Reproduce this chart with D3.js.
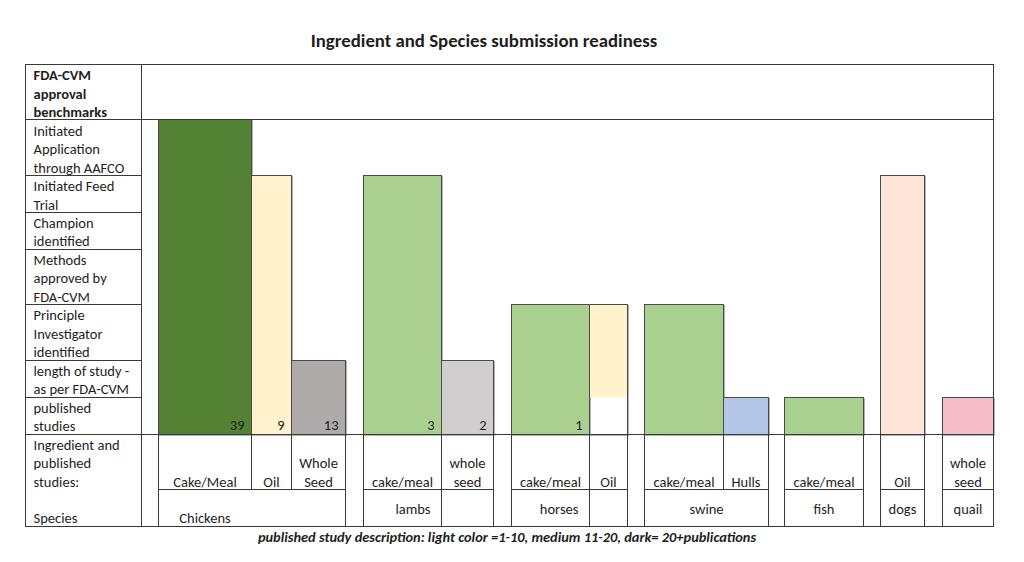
<!DOCTYPE html>
<html><head><meta charset="utf-8">
<script src="https://cdn.jsdelivr.net/npm/d3@7"></script>
<style>body{margin:0;background:#fff} svg{display:block} text{font-family:Carlito, Lato, "Open Sans", sans-serif;fill:#1e1e1e}</style>
</head><body><svg id="c" width="1024" height="562"></svg>
<script>
// ---------------- DATA ----------------
const title = "Ingredient and Species submission readiness";
const footnote = "published study description: light color =1-10, medium 11-20, dark= 20+publications";
const headerLabel = ["FDA-CVM", "approval", "benchmarks"];
// benchmarks, listed bottom (stage 1) to top (stage 7)
const benchmarks = [
  ["published", "studies"],
  ["length of study -", "as per FDA-CVM"],
  ["Principle", "Investigator", "identified"],
  ["Methods", "approved by", "FDA-CVM"],
  ["Champion", "identified"],
  ["Initiated Feed", "Trial"],
  ["Initiated", "Application", "through AAFCO"]
];
const ingredientHeader = ["Ingredient and", "published", "studies:"];
const speciesHeader = "Species";
const species = ["Chickens", "lambs", "horses", "swine", "fish", "dogs", "quail"];
const ingredients = [["Cake/Meal"], ["Oil"], ["Whole", "Seed"], ["cake/meal"], ["whole", "seed"],
  ["cake/meal"], ["Oil"], ["cake/meal"], ["Hulls"], ["cake/meal"], ["Oil"], ["whole", "seed"]];
const barSpecies = ["Chickens", "Chickens", "Chickens", "lambs", "lambs", "horses", "horses",
  "swine", "swine", "fish", "dogs", "quail"];
const stageReached = [7, 6, 2, 6, 2, 3, 3, 3, 1, 1, 6, 1];
const fillFromStage = [0, 0, 0, 0, 0, 0, 1, 0, 0, 0, 0, 0];
const studies = [39, 9, 13, 3, 2, 1, null, null, null, null, null, null];
const tone = ["green", "yellow", "gray", "green", "gray", "green", "yellow", "green", "blue", "green", "peach", "pink"];
const shade = ["dark", "light", "medium", "light", "light", "light", "light", "light", "light", "light", "light", "light"];

// ---------------- LAYOUT / STYLE ----------------
const palette = {
  green: {light: "#A9D08E", dark: "#548235"},
  yellow: {light: "#FFF2CC"},
  gray: {light: "#D0CECE", medium: "#AEAAAA"},
  blue: {light: "#B4C6E7"},
  peach: {light: "#FCE4D6"},
  pink: {light: "#F8BBC8"}
};
const benchUnits = 116;
const gapUnits = [17, 18, 18, 17, 16, 17, 18];
const barUnits = [93, 40, 54, 78, 52, 78, 38, 79, 45, 79, 44, 51];
const speciesMerged = [true, false, false, true, false, false, false];
const speciesAlign = ["first", "right", "right", "center", "center", "center", "center"];
const speciesBottom = [true, false, false, false, false, false, false];
const headerLines = 3, ingLines = 3, spLines = 2;
const lineC = "#3a3a3a";
const fs = "14.5px";

const svg = d3.select("#c");
const g = svg.append("g").attr("transform", "translate(0.5,0.5)");

// line-unit vertical scale: stage boundaries
const stageTop = [0];
benchmarks.forEach(b => stageTop.push(stageTop[stageTop.length - 1] + b.length));
const topUnit = stageTop[stageTop.length - 1] + headerLines;
const y = d3.scaleLinear().domain([-(ingLines + spLines), topUnit]).range([526, 64]).interpolate(d3.interpolateRound);

// horizontal scale in column units
const cols = [];
let cu = benchUnits;
species.forEach((s, si) => {
  cu += gapUnits[si];
  barSpecies.forEach((bs, bi) => { if (bs === s) { cols.push({bi, si, x0: cu, x1: cu + barUnits[bi]}); cu += barUnits[bi]; } });
});
const x = d3.scaleLinear().domain([0, cu]).range([25, 993]).interpolate(d3.interpolateRound);

// title & footnote
svg.append("text").attr("x", 484).attr("y", 40).attr("dy", "0.35em").attr("text-anchor", "middle")
  .style("font-weight", "bold").style("font-size", "18.8px").text(title);
svg.append("text").attr("x", 507).attr("y", 537).attr("dy", "0.35em").attr("text-anchor", "middle")
  .style("font-weight", "bold").style("font-style", "italic").style("font-size", "14.4px").text(footnote);

// bars
const bars = g.append("g");
cols.forEach(c => {
  const i = c.bi;
  const xa = x(c.x0), xb = x(c.x1);
  const yt = y(stageTop[stageReached[i]]), yb = y(0);
  const col = palette[tone[i]][shade[i]];
  bars.append("rect").attr("x", xa + 1).attr("y", yt + 1).attr("width", xb - xa).attr("height", yb - yt)
    .attr("fill", "none").attr("stroke", "#b3b3b3").attr("stroke-width", 1);
  bars.append("rect").attr("x", xa).attr("y", y(stageTop[stageReached[i]])).attr("width", xb - xa)
    .attr("height", y(stageTop[fillFromStage[i]]) - yt).attr("fill", col);
  bars.append("rect").attr("x", xa).attr("y", yt).attr("width", xb - xa).attr("height", yb - yt)
    .attr("fill", "none").attr("stroke", "#4a4a4a").attr("stroke-width", 1);
  if (studies[i] != null) {
    g.append("text").attr("x", xb - 7).attr("y", y(0.5)).attr("dy", "0.35em").attr("text-anchor", "end")
      .style("font-size", fs).text(studies[i]);
  }
});

// table lines
const L = g.append("g").attr("stroke", lineC).attr("stroke-width", 1).attr("fill", "none");
const line = (x1, y1, x2, y2) => L.append("line").attr("x1", x1).attr("y1", y1).attr("x2", x2).attr("y2", y2);
L.append("rect").attr("x", x(0)).attr("y", y(topUnit)).attr("width", x(cu) - x(0)).attr("height", y(-(ingLines + spLines)) - y(topUnit));
line(x(benchUnits), y(topUnit), x(benchUnits), y(-(ingLines + spLines)));
line(x(0), y(stageTop[stageTop.length - 1]), x(cu), y(stageTop[stageTop.length - 1]));
line(x(0), y(0), x(cu), y(0));
stageTop.slice(1, -1).forEach(t => line(x(0), y(t), x(benchUnits), y(t)));

// label area lines per species group
species.forEach((s, si) => {
  const gc = cols.filter(c => c.si === si);
  const gx0 = x(gc[0].x0), gx1 = x(gc[gc.length - 1].x1);
  line(gx0, y(0), gx0, y(-5));
  line(gx1, y(0), gx1, y(-5));
  line(gx0, y(-ingLines), gx1, y(-ingLines));
  gc.slice(1).forEach(c => line(x(c.x0), y(0), x(c.x0), speciesMerged[si] ? y(-ingLines) : y(-5)));
  // species label
  let tx, anchor = "middle";
  if (speciesAlign[si] === "first") tx = (x(gc[0].x0) + x(gc[0].x1)) / 2;
  else if (speciesAlign[si] === "right") { tx = x(gc[0].x1) - 11; anchor = "end"; }
  else tx = (gx0 + gx1) / 2;
  g.append("text").attr("x", tx).attr("y", y(speciesBottom[si] ? -4.5 : -4)).attr("dy", "0.35em")
    .attr("text-anchor", anchor).style("font-size", fs).text(s);
});

// ingredient labels
cols.forEach(c => {
  const lines = ingredients[c.bi];
  lines.forEach((t, k) => {
    g.append("text").attr("x", (x(c.x0) + x(c.x1)) / 2).attr("y", y(-2.55 + (lines.length - 1 - k)))
      .attr("dy", "0.35em").attr("text-anchor", "middle").style("font-size", fs).text(t);
  });
});

// left column texts
const tx0 = x(0) + 8;
headerLabel.forEach((t, k) => g.append("text").attr("x", tx0).attr("y", y(topUnit - 0.55 - k)).attr("dy", "0.35em")
  .style("font-size", fs).style("font-weight", "bold").text(t));
benchmarks.forEach((b, si) => {
  b.forEach((t, k) => g.append("text").attr("x", tx0).attr("y", y(stageTop[si + 1] - 0.55 - k)).attr("dy", "0.35em")
    .style("font-size", fs).text(t));
});
ingredientHeader.forEach((t, k) => g.append("text").attr("x", tx0).attr("y", y(-0.55 - k)).attr("dy", "0.35em")
  .style("font-size", fs).text(t));
g.append("text").attr("x", tx0).attr("y", y(-4.5)).attr("dy", "0.35em").style("font-size", fs).text(speciesHeader);
</script></body></html>
